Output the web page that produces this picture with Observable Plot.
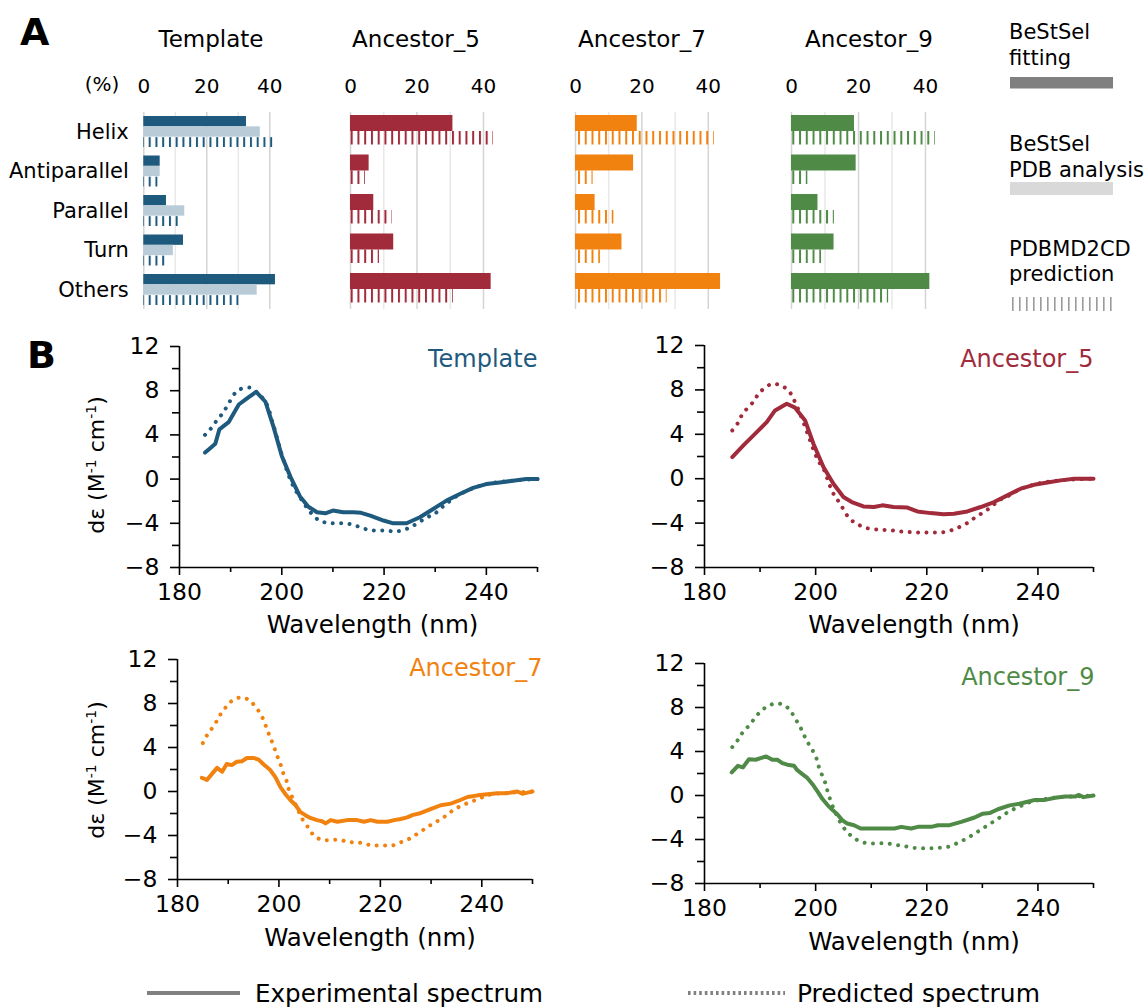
<!DOCTYPE html>
<html><head><meta charset="utf-8">
<script src="https://cdn.jsdelivr.net/npm/d3@7"></script>
<script src="https://cdn.jsdelivr.net/npm/@observablehq/plot@0.6"></script>
<style>
body{margin:0;background:#fff;}
#root{position:relative;width:1148px;height:1008px;overflow:hidden;background:#fff;font-family:"DejaVu Sans";}
#root svg{max-width:none;}
</style></head><body><div id="root"></div>
<script>
// ---------- DATA ----------
const categories = ["Helix", "Antiparallel", "Parallel", "Turn", "Others"];
const panelNames = ["Template", "Ancestor_5", "Ancestor_7", "Ancestor_9"];
const panelColors = ["#1e5a7e", "#a12a3b", "#f1820f", "#4f8a46"];
const templateLight = "#b9cbd7";
const xTicksPct = [0, 20, 40];

const templateFit  = [32.6, 5.2, 7.2, 12.6, 41.8];
const templatePdb  = [37.0, 5.2, 13.0, 9.4, 36.0];
const templatePred = [41.1, 4.6, 11.1, 6.9, 30.3];
const anc5Fit  = [30.8, 5.6, 7.0, 13.0, 42.3];
const anc5Pred = [43.0, 4.5, 12.5, 8.7, 30.9];
const anc7Fit  = [18.6, 17.5, 5.9, 14.0, 43.7];
const anc7Pred = [41.8, 5.3, 11.6, 7.5, 27.6];
const anc9Fit  = [18.8, 19.3, 7.9, 12.7, 41.3];
const anc9Pred = [42.9, 4.9, 12.8, 9.0, 29.0];

// spectra: [wavelength nm, delta epsilon]
const templateExp = [[185,2.4],[186,2.8],[187,3.2],[187.8,4.5],[189.6,5.15],[191.6,6.75],[193.2,7.3],[195,7.9],[196.8,7.0],[198.4,4.7],[200,2.1],[201.7,0.2],[203.6,-1.6],[205.2,-2.5],[206.9,-3.0],[208.5,-3.1],[210,-2.85],[212,-3.0],[214,-3.0],[215.5,-3.05],[217.3,-3.3],[219.9,-3.75],[221.8,-4.0],[224.4,-4.0],[227,-3.45],[229.6,-2.7],[232.2,-1.95],[234.8,-1.35],[237.4,-0.8],[240,-0.45],[242.6,-0.3],[245.2,-0.15],[247.8,0],[250,0]];
const templatePredSpec = [[185,4.0],[186,4.5],[187.2,5.25],[188.5,6.0],[189.5,6.75],[190.9,7.8],[192.2,8.2],[194,8.25],[195,7.9],[196.8,7.0],[198.4,4.8],[200,2.2],[202,-0.4],[203.9,-1.9],[205.6,-3.0],[207.2,-3.7],[208.7,-3.95],[210.3,-4.0],[212,-4.0],[213.7,-4.1],[215.3,-4.35],[217,-4.6],[218.7,-4.65],[220.5,-4.65],[222.1,-4.75],[223.8,-4.6],[225.4,-4.3],[227,-3.85],[228.7,-3.4],[230,-3.1],[231.6,-2.45],[234,-1.6],[237,-0.9],[240,-0.45],[243,-0.25],[246,-0.1],[250,0]];
const anc5Exp = [[185,1.95],[187,3.0],[189.4,4.2],[191.2,5.1],[192.7,6.15],[194.8,6.75],[196.3,6.4],[198.1,5.25],[199.6,3.15],[201.4,1.05],[203.2,-0.45],[205,-1.65],[206.5,-2.1],[208.6,-2.5],[210.5,-2.55],[212,-2.4],[214,-2.55],[216.5,-2.6],[218.3,-2.95],[220.7,-3.1],[223,-3.2],[224.9,-3.15],[227.3,-2.95],[229.7,-2.55],[232.1,-2.1],[234.5,-1.5],[236.9,-0.9],[239.3,-0.55],[241.7,-0.35],[244.1,-0.15],[246.5,0],[250,0]];
const anc5PredSpec = [[185,4.35],[186,5.0],[186.7,5.7],[187.7,6.35],[189,7.05],[189.7,7.65],[190.8,8.15],[192.2,8.55],[193.7,8.4],[195.1,7.95],[196,7.2],[197.2,5.85],[198.6,4.0],[199.9,2.25],[200.8,1.35],[201.7,0.6],[202.3,-0.3],[203.2,-1.35],[204.4,-2.25],[206.1,-3.6],[207.4,-4.05],[208.8,-4.4],[210.5,-4.55],[212,-4.6],[213.6,-4.65],[215.2,-4.75],[216.8,-4.8],[218.4,-4.85],[220,-4.85],[221.6,-4.85],[223.2,-4.8],[224.7,-4.6],[226.1,-4.3],[227.6,-3.9],[228.8,-3.45],[230.3,-3.0],[231.8,-2.45],[233,-1.95],[234.5,-1.6],[237,-0.9],[240,-0.45],[244,-0.15],[250,0]];
const anc7Exp = [[184.8,1.25],[185.8,1.05],[186.8,1.6],[187.8,2.15],[188.8,1.8],[189.7,2.5],[190.7,2.4],[191.7,2.7],[192.7,2.75],[193.7,3.05],[195,3.05],[196,2.9],[197,2.45],[198.3,1.95],[199.3,1.3],[200.3,0.4],[201.3,-0.25],[202.3,-0.8],[203.3,-1.25],[204.2,-1.85],[205.2,-2.15],[206.2,-2.4],[207.5,-2.6],[208.5,-2.7],[209.2,-2.9],[210.2,-2.6],[211.5,-2.75],[213.5,-2.6],[215.4,-2.6],[216.8,-2.75],[218.1,-2.6],[219.4,-2.75],[221.4,-2.75],[222.7,-2.6],[224,-2.5],[225.3,-2.35],[226.3,-2.15],[228,-1.95],[229.9,-1.6],[231.9,-1.25],[233.9,-1.1],[235.9,-0.75],[237.2,-0.5],[239.2,-0.35],[241.1,-0.25],[243.1,-0.15],[245.1,-0.15],[247,0],[248,-0.2],[249,-0.1],[250,0]];
const anc7PredSpec = [[185,4.4],[185.8,5.1],[186.8,5.75],[187.8,6.45],[188.6,7.1],[189.7,7.75],[190.9,8.3],[192.5,8.55],[194.2,8.3],[195.2,7.8],[196.3,7.1],[197,6.45],[197.7,5.6],[198.3,4.9],[199,4.1],[199.6,3.3],[200.3,2.5],[200.9,1.6],[201.6,0.85],[201.9,0.25],[202.6,-0.5],[203.6,-1.5],[204.6,-2.5],[205.9,-3.35],[206.9,-4.0],[208.5,-4.4],[210.2,-4.4],[212,-4.4],[213.8,-4.6],[215.4,-4.6],[217.2,-4.8],[218.9,-4.9],[220.7,-4.9],[222.4,-4.9],[224.1,-4.6],[225.7,-4.3],[227.1,-3.9],[228.6,-3.45],[230.1,-3.0],[231.6,-2.6],[233.1,-2.15],[234.5,-1.65],[236.2,-1.25],[237.8,-0.95],[239.5,-0.65],[241.1,-0.35],[242.8,-0.2],[246,-0.1],[250,0]];
const anc9Exp = [[184.9,2.1],[186,2.7],[186.9,2.55],[188,3.3],[189.2,3.25],[190.1,3.4],[191.1,3.55],[192.2,3.25],[193.1,3.25],[194,2.95],[194.9,2.8],[196.1,2.7],[196.7,2.3],[197.6,1.95],[198.5,1.6],[199.4,1.05],[200.3,0.4],[201.2,-0.3],[202.1,-0.85],[203,-1.3],[203.9,-1.7],[204.8,-2.25],[205.7,-2.55],[206.9,-2.7],[208.1,-3.0],[210.5,-3.0],[214.2,-3.0],[215.4,-2.85],[216.6,-2.95],[217.2,-3.0],[218.4,-2.85],[220.8,-2.85],[222,-2.7],[224.1,-2.7],[226.2,-2.4],[228.6,-2.0],[230.1,-1.65],[231.3,-1.6],[232.8,-1.25],[234.9,-0.9],[236.7,-0.75],[238.3,-0.55],[239.5,-0.4],[241.3,-0.4],[243.1,-0.2],[244.9,-0.1],[246.7,-0.1],[247.3,0.05],[248.2,-0.15],[250,0]];
const anc9PredSpec = [[185,4.4],[186,5.05],[186.9,5.75],[188,6.35],[189,7.0],[190.1,7.65],[191.3,8.1],[192.7,8.35],[194.2,8.25],[195.4,7.75],[196.3,7.0],[197.1,6.35],[197.8,5.6],[198.5,4.9],[199.4,4.15],[200.2,3.3],[200.6,2.55],[201.2,1.8],[201.8,1.05],[202.2,0.3],[203,-0.9],[203.7,-1.7],[204.5,-2.5],[205.4,-3.15],[206.6,-3.75],[208.1,-4.2],[209.6,-4.35],[211.3,-4.35],[212.8,-4.35],[214.5,-4.5],[216,-4.6],[217.6,-4.75],[219.2,-4.8],[220.8,-4.8],[222.3,-4.75],[223.9,-4.65],[225.4,-4.35],[226.8,-4.0],[228.2,-3.6],[229.6,-3.15],[231,-2.7],[232.4,-2.25],[233.7,-1.8],[235.2,-1.35],[236.7,-1.0],[238.3,-0.65],[239.8,-0.45],[243,-0.2],[250,0]];

const wlMajor = [180, 200, 220, 240];
const wlMinor = [190, 210, 230, 250];
const deMajor = [-8, -4, 0, 4, 8, 12];
const deMinor = [-6, -2, 2, 6, 10];

// ---------- HELPERS ----------
const root = document.getElementById("root");
const NS = "http://www.w3.org/2000/svg";
function place(el, left, top) {
  el.style.position = "absolute";
  el.style.left = left + "px";
  el.style.top = top + "px";
  el.style.maxWidth = "none";
  el.style.overflow = "visible";
  el.style.background = "transparent";
  root.appendChild(el);
  return el;
}
function addPattern(svg, id, color, x, period, w) {
  const defs = document.createElementNS(NS, "defs");
  const pat = document.createElementNS(NS, "pattern");
  pat.setAttribute("id", id);
  pat.setAttribute("patternUnits", "userSpaceOnUse");
  pat.setAttribute("x", x);
  pat.setAttribute("y", 0);
  pat.setAttribute("width", period);
  pat.setAttribute("height", 2000);
  const r = document.createElementNS(NS, "rect");
  r.setAttribute("x", 0); r.setAttribute("y", 0);
  r.setAttribute("width", w); r.setAttribute("height", 2000);
  r.setAttribute("fill", color);
  pat.appendChild(r);
  defs.appendChild(pat);
  svg.insertBefore(defs, svg.firstChild);
}

// ---------- PANEL A: bars ----------
const BAR_TOP = 60, bandStart = 116, bandW = 31, stepB = 39.5;
const pIn = 1 - bandW / stepB, pOut = 0.1;
function barPanel(idx, fit, pdb, pred, svgLeft, x0, ppu, tickOff, showY) {
  const name = panelNames[idx], color = panelColors[idx];
  const xMax = 45;
  const marginLeft = x0 - svgLeft;
  const marginRight = 8;
  const width = marginLeft + xMax * ppu + marginRight;
  const marginTop = bandStart - pOut * stepB - BAR_TOP;
  const rangeH = stepB * (categories.length - pIn + 2 * pOut);
  const marginBottom = 4;
  const height = marginTop + rangeH + marginBottom;
  const rows = categories.map((c, i) => ({cat: c, fit: fit[i], pdb: pdb ? pdb[i] : 0, pred: pred[i]}));
  const id = "hatch-" + name;
  const marks = [
    Plot.ruleX([10, 30], {stroke: "#e8e8e8", strokeWidth: 1.5}),
    Plot.ruleX([0, 20, 40], {stroke: "#d4d4d4", strokeWidth: 1.5}),
    Plot.axisX({anchor: "top", ticks: xTicksPct, tickSize: 0, tickPadding: 20, label: null, fontSize: 20, fill: "#000"})
  ];
  if (showY) marks.push(Plot.axisY({tickSize: 0, tickPadding: 15, label: null, fontSize: 21, fill: "#000"}));
  if (pdb) {
    const s = bandW / 3;
    marks.push(Plot.barX(rows, {y: "cat", x: "fit", fill: color, insetTop: 0, insetBottom: bandW - s}));
    marks.push(Plot.barX(rows, {y: "cat", x: "pdb", fill: templateLight, insetTop: s, insetBottom: s}));
    marks.push(Plot.barX(rows, {y: "cat", x: "pred", fill: `url(#${id})`, insetTop: 2 * s + 0.5, insetBottom: 0}));
  } else {
    marks.push(Plot.barX(rows, {y: "cat", x: "fit", fill: color, insetTop: -1, insetBottom: 16}));
    marks.push(Plot.barX(rows, {y: "cat", x: "pred", fill: `url(#${id})`, insetTop: 15, insetBottom: 2.5}));
  }
  const chart = Plot.plot({
    width, height, marginLeft, marginRight, marginTop, marginBottom,
    x: {domain: [0, xMax]},
    y: {domain: categories, paddingInner: pIn, paddingOuter: pOut, round: false, axis: showY ? undefined : null},
    style: {fontFamily: "DejaVu Sans", fontSize: "20px", color: "#000", background: "transparent", overflow: "visible"},
    marks
  });
  const px0 = chart.scale("x").apply(0);
  addPattern(chart, id, color, px0 + tickOff, 6.75, 2);
  place(chart, svgLeft, BAR_TOP);
}
barPanel(0, templateFit, templatePdb, templatePred, 0, 143.3, 3.15, 5.4, true);
barPanel(1, anc5Fit, null, anc5Pred, 330, 350, 3.325, 0.7, false);
barPanel(2, anc7Fit, null, anc7Pred, 555, 575, 3.32, 3, false);
barPanel(3, anc9Fit, null, anc9Pred, 771, 791, 3.35, 1.3, false);

// ---------- PANEL B: spectra ----------
function lp(idx, exp, pr, left, top, xAxisPx, xEndPx, yTopPx, yBotPx, tDx, tDy, lDx, lDy) {
  const mL = xAxisPx - left, mT = yTopPx - top, mR = 30;
  const width = (xEndPx - left) + mR;
  const height = (yBotPx - top) + 80;
  const expD = exp.map(([w, v]) => ({w, v}));
  const prD = pr.map(([w, v]) => ({w, v}));
  const name = panelNames[idx], color = panelColors[idx];
  const axisStyle = {stroke: "#000", strokeWidth: 1.6};
  const chart = Plot.plot({
    width, height, marginLeft: mL, marginRight: mR, marginTop: mT, marginBottom: 80,
    x: {domain: [180, 250]},
    y: {domain: [-8, 12]},
    style: {fontFamily: "DejaVu Sans", fontSize: "23px", color: "#000", background: "transparent", overflow: "visible"},
    marks: [
      Plot.axisY({ticks: deMinor, tickSize: 7, tickFormat: () => "", label: null, strokeWidth: 1.6}),
      Plot.axisY({ticks: deMajor, tickSize: 9, tickPadding: 11, label: null, fontSize: 23.5, strokeWidth: 1.6, fill: "#000"}),
      Plot.axisX({ticks: wlMinor, tickSize: 5, tickFormat: () => "", label: null, strokeWidth: 1.6}),
      Plot.axisX({ticks: wlMajor, tickSize: 8, tickPadding: 8, label: null, fontSize: 23.5, strokeWidth: 1.6, fill: "#000"}),
      Plot.ruleX([180], axisStyle),
      Plot.ruleY([-8], axisStyle),
      Plot.line(prD, {x: "w", y: "v", stroke: color, strokeWidth: 4, strokeLinecap: "round", strokeDasharray: "0.01 8.4", curve: "catmull-rom"}),
      Plot.line(expD, {x: "w", y: "v", stroke: color, strokeWidth: 4, strokeLinejoin: "round", curve: "linear"}),
      Plot.text([name], {frameAnchor: "top-right", textAnchor: "end", lineAnchor: "middle", dx: tDx, dy: tDy, fill: color, fontSize: 24}),
      Plot.text(["Wavelength (nm)"], {frameAnchor: "bottom", lineAnchor: "middle", dx: lDx, dy: lDy, fill: "#000", fontSize: 24.5})
    ]
  });
  place(chart, left, top);
}
lp(0, templateExp, templatePredSpec, 0, 330, 179, 537, 346, 567, 0, 13, 14, 58);
lp(1, anc5Exp, anc5PredSpec, 600, 330, 704, 1093, 345, 567, 0, 14, 15, 58);
lp(2, anc7Exp, anc7PredSpec, 0, 640, 177, 532, 659, 879, 10, 9, 15, 59);
lp(3, anc9Exp, anc9PredSpec, 600, 640, 704, 1093, 663, 883, 1, 14, 15, 59);

// ---------- OVERLAY TEXT & LEGENDS ----------
const ov = document.createElementNS(NS, "svg");
ov.setAttribute("width", 1148); ov.setAttribute("height", 1008);
ov.style.position = "absolute"; ov.style.left = "0px"; ov.style.top = "0px"; ov.style.pointerEvents = "none";
ov.setAttribute("font-family", "DejaVu Sans");
const titleX = [211, 416, 642, 869];
const yLab = `dε  (M<tspan dy="-8" font-size="14">-1</tspan><tspan dy="8"> cm</tspan><tspan dy="-8" font-size="14">-1</tspan><tspan dy="8">)</tspan>`;
ov.innerHTML = `
<defs><pattern id="legHatch" patternUnits="userSpaceOnUse" x="1012" y="0" width="7" height="2000"><rect x="0" y="0" width="1.6" height="2000" fill="#9a9a9a"/></pattern></defs>
<text x="20" y="45" font-size="38" font-weight="bold">A</text>
<text x="27" y="368" font-size="38" font-weight="bold">B</text>
<text x="102" y="91" font-size="20" text-anchor="middle">(%)</text>
${panelNames.map((n, i) => `<text x="${titleX[i]}" y="47" font-size="23" text-anchor="middle">${n}</text>`).join("")}
<text x="1009" y="39" font-size="21">BeStSel</text>
<text x="1009" y="65" font-size="21">fitting</text>
<rect x="1010" y="77" width="103" height="11.5" fill="#808080"/>
<text x="1009" y="151" font-size="21">BeStSel</text>
<text x="1009" y="177" font-size="21">PDB analysis</text>
<rect x="1010" y="182" width="103" height="13" fill="#d9d9d9"/>
<text x="1009" y="256" font-size="21">PDBMD2CD</text>
<text x="1009" y="281" font-size="21">prediction</text>
<rect x="1010" y="297" width="103" height="14" fill="url(#legHatch)"/>
<g font-size="22">
<text transform="translate(104,465) rotate(-90)" text-anchor="middle">${yLab}</text>
<text transform="translate(104,770) rotate(-90)" text-anchor="middle">${yLab}</text>
</g>
<line x1="147" x2="240" y1="993" y2="993" stroke="#808080" stroke-width="4"/>
<line x1="688" x2="785" y1="993" y2="993" stroke="#808080" stroke-width="4" stroke-dasharray="2.6 3"/>
<text x="255" y="1002" font-size="25" font-family="DejaVu Sans Condensed, DejaVu Sans" textLength="288" lengthAdjust="spacingAndGlyphs">Experimental spectrum</text>
<text x="797" y="1002" font-size="25" font-family="DejaVu Sans Condensed, DejaVu Sans" textLength="243" lengthAdjust="spacingAndGlyphs">Predicted spectrum</text>
`;
root.appendChild(ov);
</script></body></html>
